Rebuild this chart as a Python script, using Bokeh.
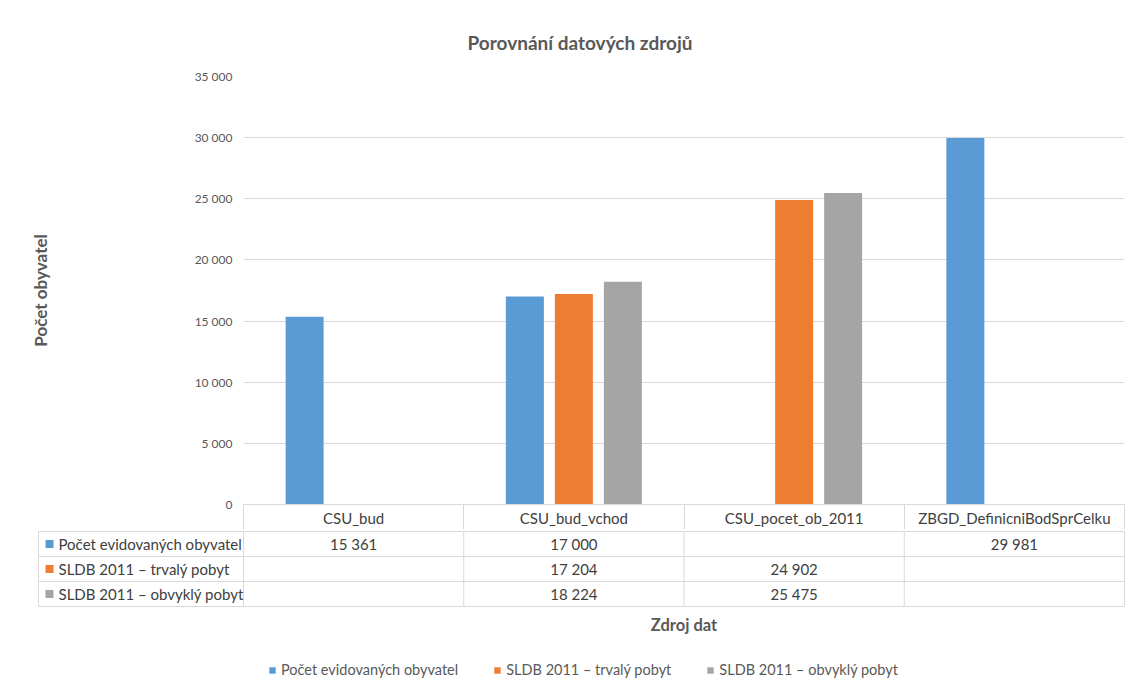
from bokeh.plotting import figure
from bokeh.models import (Range1d, ColumnDataSource, Legend, LegendItem, Title,
                          LinearAxis, FixedTicker)
from bokeh.transform import dodge
from bokeh.embed import file_html
from bokeh.resources import INLINE
from bokeh.core.properties import value

# ---------------- data ----------------
categories = ["CSU_bud", "CSU_bud_vchod", "CSU_pocet_ob_2011", "ZBGD_DefinicniBodSprCelku"]
series_names = ["Počet evidovaných obyvatel", "SLDB 2011 – trvalý pobyt", "SLDB 2011 – obvyklý pobyt"]
evidovani = [15361, 17000, None, 29981]
trvaly = [None, 17204, 24902, None]
obvykly = [None, 18224, 25475, None]
series_values = [evidovani, trvaly, obvykly]
colors = ["#5B9BD5", "#ED7D31", "#A5A5A5"]
y_ticks = [0, 5000, 10000, 15000, 20000, 25000, 30000, 35000]
y_tick_labels = ["0", "5 000", "10 000", "15 000", "20 000", "25 000", "30 000", "35 000"]
title_text = "Porovnání datových zdrojů"
y_title = "Počet obyvatel"
x_title = "Zdroj dat"

# ---------------- style ----------------
FONT = "Lato"
W = 1138
TOP_H = 529
BOT_H = 695 - TOP_H
FRAME_L, FRAME_R = 243, 1124
UNIT = (FRAME_R - FRAME_L) / len(categories)     # px per category
LW = (FRAME_L - 38) / UNIT                       # label column width in category units
ROW_H = 25
BAR_W = 0.1725
OFFS = [-0.2225, 0.0, 0.2225]
GRID = "#D9D9D9"
TXT = "#595959"
TXT2 = "#404040"

def fmt(v):
    return "" if v is None else f"{v:,}".replace(",", " ")

nc = len(categories)
nrows = len(series_names)
centers = [i + 0.5 for i in range(nc)]

# ---------------- chart ----------------
p = figure(x_range=Range1d(0, nc), y_range=Range1d(0, 35000),
           width=W, height=TOP_H, output_backend="svg", toolbar_location=None,
           x_axis_location=None, min_border_left=FRAME_L, min_border_right=W - FRAME_R,
           min_border_top=76, min_border_bottom=TOP_H - 506)
p.outline_line_color = None
p.background_fill_color = "white"
p.border_fill_color = "white"
p.xgrid.visible = False
p.yaxis.ticker = y_ticks
p.yaxis.major_label_overrides = {t: l for t, l in zip(y_ticks, y_tick_labels)}
p.yaxis.axis_line_color = None
p.yaxis.major_tick_line_color = None
p.yaxis.minor_tick_line_color = None
p.yaxis.major_tick_out = 0
p.yaxis.major_tick_in = 0
p.yaxis.major_label_standoff = 11
p.yaxis.major_label_text_font = FONT
p.yaxis.major_label_text_font_size = "12px"
p.yaxis.major_label_text_color = TXT
p.yaxis.axis_label = y_title
p.yaxis.axis_label_text_font = FONT
p.yaxis.axis_label_text_font_size = "17px"
p.yaxis.axis_label_text_font_style = "bold"
p.yaxis.axis_label_text_color = TXT
p.yaxis.axis_label_standoff = 141
p.ygrid.grid_line_color = GRID

p.title = Title(text=title_text, align="left", offset=224, standoff=46, text_font=FONT,
                text_font_size="19px", text_font_style="bold", text_color=TXT)

for vals, off, col in zip(series_values, OFFS, colors):
    xs = [c for c, v in zip(centers, vals) if v is not None]
    tops = [v for v in vals if v is not None]
    src = ColumnDataSource(dict(x=xs, top=tops))
    p.vbar(x=dodge("x", off), top="top", width=BAR_W, source=src,
           fill_color=col, line_color=None)

# data-table header row = category axis (cell borders drawn as outward minor ticks)
hdr = LinearAxis(ticker=FixedTicker(ticks=centers, minor_ticks=list(range(nc + 1))),
                 major_label_overrides={c: cat for c, cat in zip(centers, categories)},
                 axis_line_color=GRID, major_tick_line_color=None,
                 major_tick_in=0, major_tick_out=0, minor_tick_in=-ROW_H, minor_tick_out=0,
                 minor_tick_line_color=GRID, major_label_standoff=4,
                 major_label_text_font=FONT, major_label_text_font_size="15px",
                 major_label_text_color=TXT2)
p.add_layout(hdr, "below")

# ---------------- data table body + legend ----------------
pad = 2
t = figure(x_range=Range1d(-LW - pad / UNIT, nc + pad / UNIT),
           y_range=Range1d(-(BOT_H - pad) / ROW_H, pad / ROW_H),
           width=W, height=BOT_H, output_backend="svg", toolbar_location=None,
           x_axis_location=None, y_axis_location=None,
           min_border_left=38 - pad, min_border_right=W - FRAME_R - pad,
           min_border_top=0, min_border_bottom=0)
t.outline_line_color = None
t.grid.visible = False
t.background_fill_color = "white"
t.border_fill_color = "white"

# horizontal rules
hy = [-float(i) for i in range(nrows + 1)]
t.segment(x0=[-LW] * (nrows + 1), y0=hy, x1=[nc] * (nrows + 1), y1=hy,
          line_color=GRID, line_width=1)
# vertical rules
vx = [-LW] + [float(i) for i in range(nc + 1)]
t.segment(x0=vx, y0=[0.0] * len(vx), x1=vx, y1=[-float(nrows)] * len(vx),
          line_color=GRID, line_width=1)

# values
vxs, vys, vts = [], [], []
for r, vals in enumerate(series_values):
    for i, v in enumerate(vals):
        vxs.append(centers[i])
        vys.append(-(r + 0.5))
        vts.append(fmt(v))
t.text(x=vxs, y=vys, text=vts, text_align="center", text_baseline="middle",
       text_font=value(FONT), text_font_size="15px", text_color=TXT2)
# row labels with colour keys
ry = [-(r + 0.5) for r in range(nrows)]
keys = t.rect(x=[-LW + 11 / UNIT] * nrows, y=ry, width=8, height=8, width_units="screen",
              height_units="screen", fill_color=colors, line_color=None)
t.text(x=[-LW + 20 / UNIT] * nrows, y=ry, text=series_names, text_align="left",
       text_baseline="middle", text_font=value(FONT), text_font_size="15px", text_color=TXT2)

# x axis title
t.text(x=[nc / 2], y=[-(624 - 531) / ROW_H], text=[x_title], text_align="center",
       text_baseline="middle", text_font=value(FONT), text_font_size="16.5px",
       text_font_style="bold", text_color=TXT)

# legend
items = [LegendItem(label=name, renderers=[keys], index=i) for i, name in enumerate(series_names)]
legend = Legend(items=items, orientation="horizontal", location=(232, 17),
                glyph_width=8, glyph_height=8, label_standoff=5, spacing=35,
                padding=0, margin=0, border_line_color=None, background_fill_alpha=0,
                label_text_font=FONT, label_text_font_size="14.5px", label_text_color=TXT)
t.add_layout(legend)

open("out.html", "w").write(file_html([p, t], INLINE))
